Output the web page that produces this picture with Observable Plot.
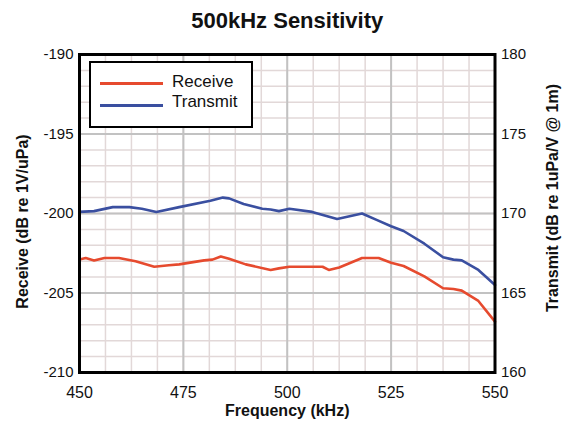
<!DOCTYPE html>
<html>
<head>
<meta charset="utf-8">
<script src="https://cdn.jsdelivr.net/npm/d3@7"></script>
<script src="https://cdn.jsdelivr.net/npm/@observablehq/plot@0.6"></script>
<style>
  body { margin: 0; background: #fff; }
  #wrap { position: relative; width: 564px; height: 423px; font-family: "Liberation Sans", Arial, sans-serif; }
  #legend { position: absolute; left: 89px; top: 61px; width: 164px; height: 67px; box-sizing: border-box;
            border: 2.5px solid #000; background: #fff; }
  .sw { position: absolute; left: 8.5px; width: 63px; height: 3px; }
  .lt { position: absolute; left: 81px; font-size: 17px; line-height: 20px; color: #111; white-space: nowrap; }
</style>
</head>
<body>
<div id="wrap"></div>
<script>
const title = "500kHz Sensitivity";
const xLabel = "Frequency (kHz)";
const yLeftLabel = "Receive (dB re 1V/uPa)";
const yRightLabel = "Transmit (dB re 1uPa/V @ 1m)";
const seriesNames = ["Receive", "Transmit"];
const seriesColors = ["#e64a2e", "#3a4fa0"];

const xTicks = [450, 475, 500, 525, 550];
const yTicks = [-210, -205, -200, -195, -190];
const transmitOffset = 370; // right axis = left axis + 370

const receiveFreq = [450, 451.5, 453.5, 456, 459.5, 463.5, 468, 471.5, 474, 480, 482, 484, 486, 490, 496, 498, 500.5, 503, 508.5, 510, 512.5, 518, 522, 525, 528, 533, 537.5, 540, 542, 546, 550];
const receiveDb   = [-202.9, -202.8, -202.95, -202.8, -202.8, -203.0, -203.35, -203.25, -203.2, -202.95, -202.9, -202.7, -202.85, -203.2, -203.55, -203.45, -203.35, -203.35, -203.35, -203.55, -203.4, -202.8, -202.8, -203.1, -203.3, -203.95, -204.7, -204.75, -204.85, -205.5, -206.8];

const transmitFreq = [450, 453.5, 458, 462, 465, 468.5, 474, 481.5, 484.5, 486, 489.5, 494, 496, 498, 500.5, 506, 512, 518, 521.5, 525, 528, 533, 537.5, 540, 542, 546, 550];
const transmitDb   = [170.1, 170.15, 170.4, 170.4, 170.3, 170.1, 170.4, 170.8, 171.0, 170.95, 170.6, 170.3, 170.25, 170.15, 170.3, 170.1, 169.65, 170.0, 169.6, 169.2, 168.9, 168.1, 167.25, 167.1, 167.05, 166.45, 165.5];

const receive = receiveFreq.map((f, i) => ({f, v: receiveDb[i]}));
const transmit = transmitFreq.map((f, i) => ({f, v: transmitDb[i] - transmitOffset}));

const minorX = d3.range(450, 550.01, 6.25);
const minorY = d3.range(-210, -189.99, 1);
const majorX = [475, 500, 525];
const majorY = [-205, -200, -195];

const chart = Plot.plot({
  width: 564,
  height: 423,
  marginLeft: 79,
  marginRight: 69.5,
  marginTop: 54,
  marginBottom: 51,
  style: {fontFamily: "'Liberation Sans', Arial, sans-serif", background: "#fff", color: "#111"},
  x: {domain: [450, 550]},
  y: {domain: [-210, -190]},
  marks: [
    Plot.ruleY(minorY, {stroke: "#e2d8d8", strokeWidth: 1.5}),
    Plot.ruleX(minorX, {stroke: "#e2d8d8", strokeWidth: 1.5}),
    Plot.ruleY(majorY, {stroke: "#c2c2c2", strokeWidth: 2}),
    Plot.ruleX(majorX, {stroke: "#c2c2c2", strokeWidth: 2}),
    Plot.line(transmit, {x: "f", y: "v", stroke: seriesColors[1], strokeWidth: 2.6}),
    Plot.line(receive, {x: "f", y: "v", stroke: seriesColors[0], strokeWidth: 2.6}),
    Plot.frame({stroke: "#000", strokeWidth: 3}),
    Plot.axisY({anchor: "left", ticks: yTicks, tickFormat: d => `${d}`, tickSize: 0, tickPadding: 6, fontSize: 15, label: null}),
    Plot.axisY({anchor: "right", ticks: yTicks, tickFormat: d => `${d + transmitOffset}`, tickSize: 0, tickPadding: 6, fontSize: 15, label: null}),
    Plot.axisX({ticks: xTicks, tickFormat: d => `${d}`, tickSize: 0, tickPadding: 14.5, fontSize: 16, label: null}),
    Plot.text([title], {frameAnchor: "top", lineAnchor: "middle", textAnchor: "middle", dy: -33.5, fontWeight: "bold", fontSize: 22}),
    Plot.text([xLabel], {frameAnchor: "bottom", lineAnchor: "middle", textAnchor: "middle", dy: 38, fontWeight: "bold", fontSize: 16}),
    Plot.text([yLeftLabel], {frameAnchor: "left", textAnchor: "middle", lineAnchor: "middle", rotate: -90, dx: -57, dy: 8, fontWeight: "bold", fontSize: 16}),
    Plot.text([yRightLabel], {frameAnchor: "right", textAnchor: "middle", lineAnchor: "middle", rotate: -90, dx: 57.5, dy: -15.5, fontWeight: "bold", fontSize: 16})
  ]
});

const wrap = document.getElementById("wrap");
wrap.appendChild(chart);

const legend = document.createElement("div");
legend.id = "legend";
const tops = [19, 40.5];
const textTops = [9, 29];
seriesNames.forEach((name, i) => {
  const sw = document.createElement("div");
  sw.className = "sw";
  sw.style.top = tops[i] + "px";
  sw.style.background = seriesColors[i];
  legend.appendChild(sw);
  const t = document.createElement("div");
  t.className = "lt";
  t.style.top = textTops[i] + "px";
  t.textContent = name;
  legend.appendChild(t);
});
wrap.appendChild(legend);
</script>
</body>
</html>
